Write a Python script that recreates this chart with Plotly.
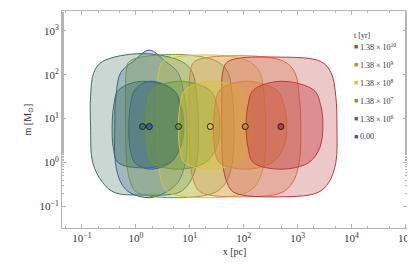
import numpy as np
import plotly.graph_objects as go

# times in the legend, top to bottom
labels = ["1.38 × 10<sup>10</sup>", "1.38 × 10<sup>9</sup>", "1.38 × 10<sup>8</sup>",
          "1.38 × 10<sup>7</sup>", "1.38 × 10<sup>6</sup>", "0.00"]
colors = ["#c0393b", "#d9823f", "#d8c43c", "#6e9a36", "#3f7062", "#3b5ca8"]

# median position of each cluster
center_x = [490, 107, 24, 6.2, 1.33, 1.78]
center_m = [6.6, 6.6, 6.6, 6.6, 6.6, 6.6]

# outer contour, log10 x of left / right edge at shared log10 m levels
outer_levels = [2.30, 2.05, 1.50, 0.82, 0.00, -0.45, -0.68]
outer_left = [
    [1.71, 1.61, 1.595, 1.595, 1.61, 1.69, 1.82],
    [1.09, 1.01, 0.99, 0.99, 1.01, 1.08, 1.21],
    [0.50, 0.42, 0.40, 0.40, 0.42, 0.48, 0.60],
    [-0.12, -0.18, -0.19, -0.19, -0.17, -0.10, 0.02],
    [-0.62, -0.78, -0.84, -0.84, -0.80, -0.62, -0.40],
    [-0.05, -0.28, -0.37, -0.39, -0.38, -0.28, -0.12],
]
outer_right = [
    [3.43, 3.62, 3.71, 3.73, 3.71, 3.58, 3.38],
    [2.75, 2.95, 3.03, 3.06, 3.03, 2.91, 2.71],
    [2.10, 2.30, 2.38, 2.41, 2.38, 2.26, 2.06],
    [1.51, 1.71, 1.79, 1.82, 1.79, 1.67, 1.47],
    [0.85, 1.05, 1.13, 1.16, 1.13, 1.00, 0.80],
    [0.55, 0.78, 0.90, 0.95, 0.92, 0.78, 0.55],
]
outer_top = [2.40, 2.43, 2.45, 2.46, 2.48, 2.56]
outer_bottom = [-0.78, -0.78, -0.80, -0.80, -0.74, -0.80]

# inner contour, same layout
inner_levels = [1.65, 1.30, 0.82, 0.35, 0.00]
inner_left = [
    [2.18, 2.08, 2.045, 2.08, 2.18],
    [1.56, 1.47, 1.44, 1.46, 1.55],
    [0.91, 0.82, 0.79, 0.81, 0.90],
    [0.30, 0.21, 0.19, 0.21, 0.30],
    [-0.32, -0.41, -0.44, -0.42, -0.33],
    [-0.02, -0.10, -0.13, -0.11, -0.02],
]
inner_right = [
    [3.30, 3.43, 3.47, 3.415, 3.21],
    [2.61, 2.75, 2.80, 2.74, 2.53],
    [1.96, 2.10, 2.15, 2.09, 1.88],
    [1.37, 1.51, 1.56, 1.50, 1.29],
    [0.70, 0.84, 0.89, 0.83, 0.62],
    [0.70, 0.82, 0.87, 0.82, 0.65],
]
inner_top = [1.85, 1.85, 1.85, 1.85, 1.85, 1.85]
inner_bottom = [-0.15, -0.15, -0.15, -0.15, -0.12, -0.15]

x_ticks = [-1, 0, 1, 2, 3, 4, 5]
y_ticks = [-1, 0, 1, 2, 3]


def rgba(hex_color, a):
    h = hex_color.lstrip("#")
    r, g, b = int(h[0:2], 16), int(h[2:4], 16), int(h[4:6], 16)
    return f"rgba({r},{g},{b},{a})"


def contour(cx, left, right, levels, top, bottom):
    lx = [np.log10(cx)] + left + [np.log10(cx)] + right[::-1] + [np.log10(cx)]
    ly = [top] + levels + [bottom] + levels[::-1] + [top]
    return 10 ** np.array(lx), 10 ** np.array(ly)


def power_label(k):
    return f"10<sup>{'−' if k < 0 else ''}{abs(k)}</sup>"


fig = go.Figure()

order = [5, 4, 3, 2, 1, 0]
for i in order:
    xs, ys = contour(center_x[i], outer_left[i], outer_right[i], outer_levels,
                     outer_top[i], outer_bottom[i])
    fig.add_scatter(x=xs, y=ys, mode="lines", line=dict(color=colors[i], width=1, shape="spline"),
                    fill="toself", fillcolor=rgba(colors[i], 0.28), showlegend=False, hoverinfo="skip")
for i in order:
    xs, ys = contour(center_x[i], inner_left[i], inner_right[i], inner_levels,
                     inner_top[i], inner_bottom[i])
    fig.add_scatter(x=xs, y=ys, mode="lines", line=dict(color=colors[i], width=1, shape="spline"),
                    fill="toself", fillcolor=rgba(colors[i], 0.40), showlegend=False, hoverinfo="skip")

fig.add_scatter(x=center_x, y=center_m, mode="markers",
                marker=dict(size=6, color=colors, line=dict(color="#222", width=1)),
                showlegend=False, hoverinfo="skip")

# legend drawn as text, as in the original figure
fig.add_annotation(x=0.842, y=0.885, xref="paper", yref="paper", xanchor="left", yanchor="middle",
                   text="t [yr]", showarrow=False, font=dict(size=8, color="#333"))
for i, lab in enumerate(labels):
    ly = 0.836 - 0.083 * i
    fig.add_annotation(x=0.842, y=ly, xref="paper", yref="paper", xanchor="left", yanchor="middle",
                       showarrow=False, text="■", font=dict(size=7, color=colors[i]))
    fig.add_annotation(x=0.858, y=ly, xref="paper", yref="paper", xanchor="left", yanchor="middle",
                       showarrow=False, text=lab, font=dict(size=8, color="#333"))

axis_style = dict(type="log", showgrid=False, zeroline=False, showline=True, linecolor="#b5b5b5",
                  linewidth=1, mirror="allticks", ticks="inside", ticklen=4, tickcolor="#b5b5b5",
                  minor=dict(ticks="inside", ticklen=2, tickcolor="#b5b5b5", showgrid=False),
                  tickfont=dict(size=11, color="#333"), ticklabeloverflow="allow")

fig.update_xaxes(**axis_style, range=[-1.37, 5.03], tickvals=[10.0 ** k for k in x_ticks],
                 ticktext=[power_label(k) for k in x_ticks],
                 title=dict(text="x [pc]", font=dict(size=10, color="#333"), standoff=4))
fig.update_yaxes(**axis_style, range=[-1.49, 3.45], tickvals=[10.0 ** k for k in y_ticks],
                 ticktext=[power_label(k) for k in y_ticks],
                 title=dict(text="m [M<sub>⊙</sub>]", font=dict(size=10, color="#333"), standoff=6))

# the page body adds an 8 px offset, so the figure is 8 px smaller than the window
fig.update_layout(
    width=407, height=256,
    margin=dict(l=54, r=4, t=2, b=36),
    plot_bgcolor="white", paper_bgcolor="white",
    font=dict(family="Liberation Serif", color="#333"),
    showlegend=False,
)

fig.write_html("out.html")
